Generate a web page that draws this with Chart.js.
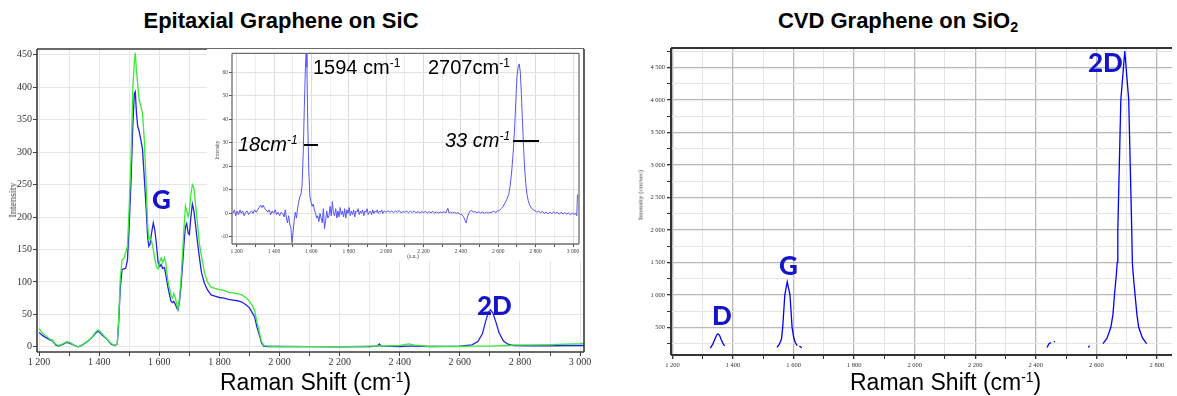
<!DOCTYPE html>
<html><head><meta charset="utf-8">
<script src="https://cdn.jsdelivr.net/npm/chart.js@4.4.0/dist/chart.umd.min.js"></script>
<style>
body{margin:0;background:#fff;width:1177px;height:396px;overflow:hidden;position:relative;font-family:"Liberation Sans",Arial,sans-serif}
canvas{position:absolute}
.t{position:absolute;white-space:nowrap;line-height:1}
.lab{font-family:Lato,"Open Sans",sans-serif;font-weight:900;font-size:26px;color:#1414c8}
.ann{font-size:20px;color:#000}
.sup{font-size:0.6em;position:relative;top:-0.55em}
.rot{transform:translate(-50%,-50%) rotate(-90deg);font-family:"Liberation Serif",serif;color:#444}
.bar{position:absolute;height:2px;background:#000}
</style></head>
<body>
<canvas id="main" width="600" height="335" style="left:0;top:40px"></canvas>
<canvas id="inset" width="376" height="212" style="left:207px;top:49px;background:#fff"></canvas>
<canvas id="cvd" width="557" height="335" style="left:620px;top:40px"></canvas>

<div class="t" style="left:281px;top:10px;transform:translateX(-50%);font-weight:bold;font-size:22px">Epitaxial Graphene on SiC</div>
<div class="t" style="left:898px;top:10px;transform:translateX(-50%);font-weight:bold;font-size:22px">CVD Graphene on SiO<span style="font-size:0.65em;position:relative;top:0.3em">2</span></div>
<div class="t" style="left:220px;top:371px;font-size:23px">Raman Shift (cm<span class="sup">-1</span>)</div>
<div class="t" style="left:850px;top:371px;font-size:23px">Raman Shift (cm<span class="sup">-1</span>)</div>
<div class="t rot" style="left:13px;top:200px;font-size:10px">Intensity</div>
<div class="t rot" style="left:641px;top:195px;font-size:7px">Intensity (cnt/sec)</div>
<div class="t rot" style="left:218px;top:150px;font-size:5.5px">Intensity</div>
<div class="t" style="left:413px;top:254px;transform:translateX(-50%);font-family:'Liberation Serif',serif;font-size:5.5px;color:#444">(a.u.)</div>

<div class="t lab" style="left:152px;top:186px">G</div>
<div class="t lab" style="left:477px;top:292px">2D</div>
<div class="t lab" style="left:712px;top:302px">D</div>
<div class="t lab" style="left:779px;top:252px">G</div>
<div class="t lab" style="left:1088px;top:49px">2D</div>

<div class="t ann" style="left:313px;top:57px">1594 cm<span class="sup">-1</span></div>
<div class="t ann" style="left:428px;top:57px">2707cm<span class="sup">-1</span></div>
<div class="t ann" style="left:238px;top:134px;font-style:italic">18cm<span class="sup">-1</span></div>
<div class="bar" style="left:304px;top:144px;width:14px"></div>
<div class="t ann" style="left:445px;top:130px;font-style:italic">33 cm<span class="sup">-1</span></div>
<div class="bar" style="left:513px;top:140px;width:26px"></div>

<script>
// ---- Epitaxial graphene on SiC (main spectrum) ----
const mainShift = [1200,1210,1220,1235,1245,1255,1265,1280,1293,1305,
1318,1330,1345,1360,1375,1390,1398,1410,1425,1440,
1452,1460,1465,1470,1476,1482,1488,1494,1500,1506,
1512,1517,1520,1524,1528,1533,1538,1544,1550,1556,
1561,1565,1569,1574,1580,1585,1590,1596,1602,1606,
1611,1617,1622,1628,1634,1639,1644,1648,1653,1658,
1662,1667,1672,1678,1683,1687,1691,1696,1700,1705,
1710,1715,1720,1726,1733,1740,1750,1760,1772,1785,
1800,1815,1830,1845,1860,1875,1890,1900,1910,1917,
1925,1933,1940,1947,1960,2000,2100,2200,2300,2325,
2332,2338,2400,2430,2450,2500,2600,2640,2660,2675,
2685,2695,2702,2710,2720,2730,2745,2760,2780,2850,
2900,2950,3000,3013];
const blueIntensity = [22,18,15,11,9,3,1,4,7,5,
2,0,3,8,14,22,24,18,12,4,
2,4,40,90,119,120,121,134,190,258,
345,390,393,360,340,332,320,305,260,215,
170,155,158,175,191,180,160,130,124,127,
121,122,110,93,80,70,68,70,66,60,
57,70,93,130,165,185,190,175,173,200,
220,210,190,165,139,115,98,88,80,78,
76,75,73,72,71,69,64,60,52,46,
30,18,6,1,0.5,0.5,0.3,0,0.5,1,
4.5,1,0.5,1,1,0.5,1,3,8,20,
38,53,57,52,38,22,9,4,2,1.5,
1.5,2,2,2];
const greenIntensity = [28,22,18,12,10,4,2,5,8,6,
2,0,3,8,14,24,26,20,12,5,
2,4,45,105,134,136,145,155,220,294,
400,440,453,425,405,380,372,360,320,253,
190,165,168,163,150,135,124,120,132,137,
130,137,128,103,90,79,75,82,76,66,
58,75,103,150,190,217,210,201,210,235,
250,245,222,195,160,140,115,100,92,90,
88,87,84,83,82,80,75,70,63,56,
38,22,8,2,1,0.5,0.3,0.3,1,1,
1.5,1,2,4.5,2.5,0.5,0.5,1,1,1,
1,1,1,1.5,1.5,1.5,2,2,2.5,3,
3.5,4,5,5.5];

// ---- Inset (difference spectrum) ----
const insetShift = [1180,1188,1195,1203,1210,1218,1225,1232,1240,1248,
1256,1264,1272,1280,1288,1296,1304,1312,1320,1328,
1335,1342,1350,1358,1366,1374,1382,1390,1398,1406,
1414,1422,1430,1438,1446,1454,1460,1466,1472,1478,
1484,1490,1496,1502,1508,1514,1520,1526,1532,1538,
1544,1550,1556,1562,1568,1572,1576,1580,1586,1592,
1598,1604,1610,1616,1622,1628,1634,1640,1646,1652,
1658,1664,1670,1676,1682,1688,1694,1700,1706,1712,
1718,1724,1730,1736,1742,1748,1754,1760,1766,1772,
1778,1784,1790,1796,1802,1808,1814,1820,1826,1832,
1838,1844,1850,1856,1862,1868,1874,1880,1886,1892,
1898,1904,1910,1916,1922,1928,1934,1940,1946,1952,
1958,1964,1970,1976,1982,1990,2000,2010,2020,2030,
2040,2050,2060,2070,2080,2090,2100,2110,2120,2130,
2140,2150,2160,2170,2180,2190,2200,2210,2220,2230,
2240,2250,2260,2270,2280,2290,2300,2310,2320,2330,
2336,2345,2355,2365,2375,2385,2395,2405,2415,2422,
2428,2435,2442,2450,2458,2466,2476,2486,2496,2506,
2516,2526,2536,2546,2556,2566,2576,2586,2596,2606,
2616,2626,2636,2646,2656,2664,2672,2680,2688,2694,
2700,2706,2712,2718,2724,2730,2736,2742,2748,2754,
2760,2768,2776,2786,2796,2806,2816,2826,2836,2846,
2856,2866,2876,2886,2896,2906,2916,2926,2936,2946,
2956,2966,2976,2986,2996,3006,3014,3020,3024];
const insetIntensity = [0,1.5,-1,1,-0.5,1.5,0,1,-1,0.5,
1,-0.5,0.5,1,0,1.5,0.5,1.5,2.5,3.5,
2.5,3.5,2,1.5,0.5,1.5,-0.5,1,0,1.5,
-0.5,0.5,-1,0.5,0,-1.5,1.5,-2,-4,-1,
-4.5,-6,-12.5,-8,-3,0.5,-2,2,5,7,
8,12,25,45,62,69,62,40,18,7,
5,3,4,1.5,0,-2,-1,-3.5,0,-2,
-4,2,-6.5,-3,1,-2,-1,3,-1,5,
0,-1,2,-2,1,-1.5,2.5,-0.5,1,-1.5,
2,-2,1.5,0,2.5,-1,1,-0.5,1.5,-1.5,
1,0.5,2,-0.5,1,0,1.5,-1,1,0.5,
2,-0.5,0.5,1,-0.5,1.5,0,1,0.5,1.5,
0,1,0.5,1.5,0,1,0.5,1.2,0.5,1,
0.3,1,0.5,1.2,0.2,0.8,0.5,1,0.3,0.9,
0.4,1,0.3,0.8,0.2,0.7,0.4,0.9,0.2,0.7,
0.3,0.8,0.2,0.6,0.1,0.6,0.3,0.7,0.2,2.2,
0.2,0.5,0.1,0.4,0,0.3,-0.3,-0.5,-1.5,-3,
-4,-1.5,0,1,1.3,0.5,0.8,0.2,0.7,0.1,
0.6,0,0.5,0.1,0.4,0.5,0.9,0.4,1,1.3,
2,3,4.5,6,8,12,18,26,37,48,
58,62,63.5,60,50,38,27,18,12,8,
5.5,3.5,2.5,1.5,1.2,0.5,1,0.3,0.8,0,
0.6,-0.2,0.5,-0.1,0.6,0,0.5,-0.3,0.4,-0.2,
0.3,-0.3,0.2,-0.5,0.1,-0.4,0,-1,8];

// ---- CVD graphene on SiO2 (null = gap in trace) ----
const cvdShift = [1325,1333,1340,1346,1350,1355,1361,1367,1372, 1450,
1545,1553,1560,1564,1571,1579,1588,1595,1600,1606,1612, 1615, 1619,1627, 2000,
2437,2444,2450, 2455, 2460,2463, 2500, 2573,2578, 2600,
2622,2635,2648,2655,2660,2666,2669,2671,2676,2681,2694,2707,2712,2717,2719,2723,2728,2734,2740,2752,2766];
const cvdIntensity = [180,240,320,380,400,380,310,250,215, null,
190,240,320,500,1000,1200,1000,500,350,260,220, null, 210,185, null,
190,250,265, null, 275,285, null, 195,215, null,
250,330,500,700,1000,1300,1500,2000,3000,4000,4750,4000,3000,2000,1500,1250,1000,700,500,340,250];

// ---- tick values ----
const mainXTicks = [1200,1300,1400,1500,1600,1700,1800,1900,2000,2100,2200,2300,2400,2500,2600,2700,2800,2900,3000];
const mainYTicks = [0,50,100,150,200,250,300,350,400,450];
const insetXTicks = mainXTicks;
const insetYTicks = [-10,0,10,20,30,40,50,60];
const cvdXTicks = [1200,1300,1400,1500,1600,1700,1800,1900,2000,2100,2200,2300,2400,2500,2600,2700,2800];
const cvdYTicks = [250,500,750,1000,1250,1500,1750,2000,2250,2500,2750,3000,3250,3500,3750,4000,4250,4500,4750];

const fmtK = v => v >= 1000 ? Math.floor(v/1000) + ' ' + String(v % 1000).padStart(3,'0') : String(v);
const pts = (xs, ys) => xs.map((x,i) => ({x, y: ys[i]}));
const setTicks = vals => s => { s.ticks = vals.map(v => ({value: v})); };

Chart.defaults.font.family = "'Liberation Serif', serif";
Chart.defaults.color = '#333';

function frame(id, color, width, sides){
  return {id, afterDraw(chart){
    const {ctx, chartArea:a} = chart;
    ctx.save(); ctx.strokeStyle = color; ctx.lineWidth = width; ctx.beginPath();
    if (sides.includes('t')) { ctx.moveTo(a.left, a.top); ctx.lineTo(a.right, a.top); }
    if (sides.includes('r')) { ctx.moveTo(a.right, a.top); ctx.lineTo(a.right, a.bottom); }
    if (sides.includes('b')) { ctx.moveTo(a.left, a.bottom); ctx.lineTo(a.right, a.bottom); }
    if (sides.includes('l')) { ctx.moveTo(a.left, a.top); ctx.lineTo(a.left, a.bottom); }
    ctx.stroke(); ctx.restore();
  }};
}
const baseOpts = {responsive:false, animation:false, devicePixelRatio:1, events:[],
  plugins:{legend:{display:false}, tooltip:{enabled:false}}};

// Main chart
new Chart(document.getElementById('main'), {
  type:'line',
  data:{datasets:[
    {data:pts(mainShift, greenIntensity), borderColor:'rgb(55,235,55)', borderWidth:1.3, pointRadius:0},
    {data:pts(mainShift, blueIntensity), borderColor:'rgb(35,35,225)', borderWidth:1.3, pointRadius:0}
  ]},
  options:{...baseOpts,
    layout:{padding:{left:0, top:9, right:16, bottom:0}},
    scales:{
      x:{type:'linear', min:1193, max:3013, afterFit:s=>{s.height=23;}, afterBuildTicks:setTicks(mainXTicks),
        border:{display:false},
        grid:{color:'#e6e6e6', tickColor:'#444', tickLength:4},
        ticks:{autoSkip:false, maxRotation:0, padding:0,
          font:{size:10}, callback:v => v % 200 === 0 ? fmtK(v) : ''}},
      y:{type:'linear', min:-8, max:459, afterFit:s=>{s.width=37;}, afterBuildTicks:setTicks(mainYTicks),
        border:{display:false},
        grid:{color:'#e6e6e6', tickColor:'#444', tickLength:4},
        ticks:{autoSkip:false, padding:1, font:{size:10}, callback:v => fmtK(v)}}
    }},
  plugins:[frame('frameMain', '#3a3a3a', 1.6, 'trbl')]
});

// Inset chart
new Chart(document.getElementById('inset'), {
  type:'line',
  data:{datasets:[
    {data:pts(insetShift, insetIntensity), borderColor:'rgb(85,85,250)', borderWidth:1, pointRadius:0}
  ]},
  options:{...baseOpts,
    layout:{padding:{left:0, top:4, right:4, bottom:0}},
    scales:{
      x:{type:'linear', min:1175, max:3032, afterFit:s=>{s.height=17;}, afterBuildTicks:setTicks(insetXTicks),
        border:{display:false},
        grid:{color:c => (c.tick && c.tick.value % 200 === 0) ? '#dcdcdc' : '#eeeeee', tickColor:'#555', tickLength:3},
        ticks:{autoSkip:false, maxRotation:0, padding:1,
          font:{size:5.5}, color:'#444', callback:v => v % 200 === 0 ? fmtK(v) : ''}},
      y:{type:'linear', min:-13, max:68, afterFit:s=>{s.width=25;}, afterBuildTicks:setTicks(insetYTicks),
        border:{display:false},
        grid:{color:'#e2e2e2', tickColor:'#555', tickLength:3},
        ticks:{autoSkip:false, padding:1, font:{size:5.5}, color:'#444'}}
    }},
  plugins:[frame('frameInset', '#6e6e6e', 1.3, 'trbl')]
});

// CVD chart
new Chart(document.getElementById('cvd'), {
  type:'line',
  data:{datasets:[
    {data:pts(cvdShift, cvdIntensity), borderColor:'rgb(0,0,255)', borderWidth:1.3, pointRadius:0, spanGaps:false}
  ]},
  options:{...baseOpts,
    layout:{padding:{left:0, top:8, right:5, bottom:0}},
    scales:{
      x:{type:'linear', min:1195, max:2850, afterFit:s=>{s.height=20;}, afterBuildTicks:setTicks(cvdXTicks),
        border:{display:false},
        grid:{color:c => (c.tick && c.tick.value % 200 === 0) ? '#b8b8b8' : '#e4e4e4',
              lineWidth:c => (c.tick && c.tick.value % 200 === 0) ? 1.3 : 1, tickColor:'#333', tickLength:4},
        ticks:{autoSkip:false, maxRotation:0, padding:2,
          font:{size:6.5}, callback:v => v % 200 === 0 ? fmtK(v) : ''}},
      y:{type:'linear', min:74, max:4797, afterFit:s=>{s.width=51;}, afterBuildTicks:setTicks(cvdYTicks),
        border:{display:false},
        grid:{color:c => (c.tick && c.tick.value % 500 === 0) ? '#b8b8b8' : '#e4e4e4',
              lineWidth:c => (c.tick && c.tick.value % 500 === 0) ? 1.3 : 1, tickColor:'#333', tickLength:4},
        ticks:{autoSkip:false, padding:2, font:{size:6.5}, callback:v => v % 500 === 0 ? fmtK(v) : ''}}
    }},
  plugins:[frame('frameCvd', '#333', 2, 'tbl')]
});
</script>
</body></html>
